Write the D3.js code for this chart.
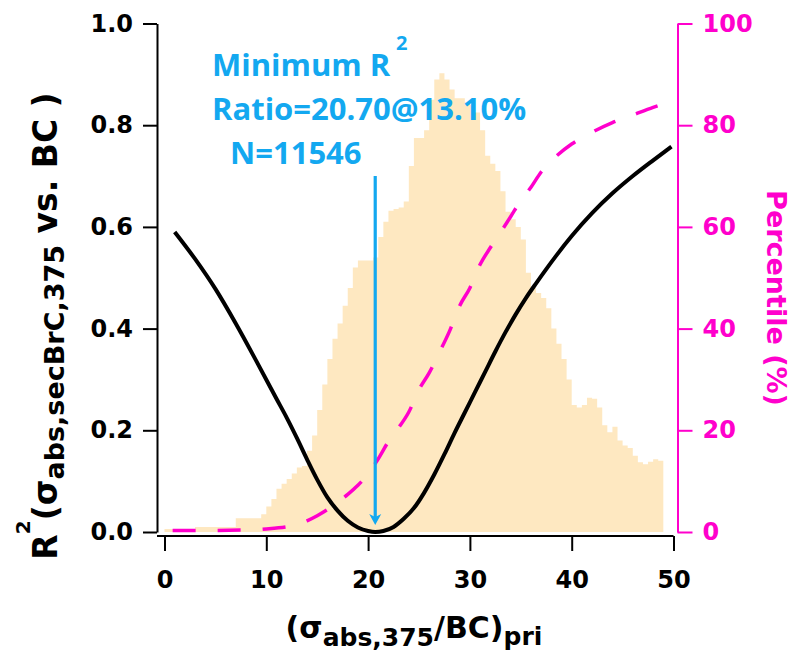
<!DOCTYPE html>
<html lang="en">
<head>
  <title>Minimum R2 ratio</title>
  <script src="https://cdn.jsdelivr.net/npm/d3@7"></script>
  <style>
    body { margin: 0; background: #fff; }
    svg { display: block; }
    .axis text { font-family: "DejaVu Sans", sans-serif; font-weight: bold; font-size: 24px; }
  </style>
</head>
<body>
  <script>
    // histogram of (sigma_abs,375/BC)_pri : bins 0.5 wide starting at 0, heights in left-axis units
    var histStart = 0;
    var histWidth = 0.5;
    var histValues = [
      0.006, 0.006, 0.006, 0.006, 0.006, 0.006,
      0.01, 0.01, 0.01, 0.01, 0.01, 0.01, 0.01, 0.01,
      0.027, 0.027, 0.027, 0.027, 0.027, 0.035,
      0.05, 0.065, 0.085, 0.095, 0.104, 0.115, 0.127, 0.13, 0.16, 0.19,
      0.24, 0.29, 0.34, 0.38, 0.41, 0.445, 0.48, 0.52, 0.534, 0.534,
      0.534, 0.54, 0.58, 0.61, 0.632, 0.635, 0.638, 0.65, 0.72, 0.775,
      0.775, 0.79, 0.85, 0.89, 0.902, 0.89, 0.87, 0.853, 0.853, 0.845,
      0.84, 0.825, 0.79, 0.74, 0.724, 0.71, 0.67, 0.63, 0.615, 0.60,
      0.575, 0.51, 0.48, 0.47, 0.46, 0.44, 0.40, 0.37, 0.34, 0.30,
      0.25, 0.245, 0.25, 0.264, 0.262, 0.245, 0.21, 0.196, 0.207, 0.18,
      0.17, 0.165, 0.15, 0.137, 0.133, 0.138, 0.143, 0.14
    ];

    // R2 of sigma_abs,secBrC,375 vs BC against the assumed ratio
    var r2Ratio = [1, 3, 5, 7, 9, 11, 12, 13, 14, 15, 16, 17, 18, 19, 20, 20.7,
                   21.5, 22.5, 23.5, 24.5, 25.5, 26.5, 27.5, 28.5, 29.5, 30.5, 31.5, 32.5,
                   33.5, 34.5, 35.5, 36.5, 37.5, 38.5, 40, 42, 44, 46, 48, 49.8];
    var r2Values = [0.59, 0.537, 0.478, 0.41, 0.337, 0.262, 0.225, 0.185, 0.143, 0.103,
                    0.068, 0.042, 0.022, 0.009, 0.002, 0.0,
                    0.002, 0.01, 0.026, 0.047, 0.077, 0.113, 0.153, 0.195, 0.235, 0.275,
                    0.315, 0.355, 0.393, 0.428, 0.46, 0.489, 0.517, 0.544, 0.582, 0.627,
                    0.666, 0.70, 0.731, 0.758];

    // cumulative percentile of the ratio
    var pctRatio = [0.8, 4, 8, 10, 12, 13, 14, 15, 16, 17, 18, 19, 20, 21, 22, 23, 24, 25, 26, 27,
                    28, 29, 30, 31, 32, 33, 34, 35, 36, 37, 38, 40, 42, 44, 46, 48, 49.7];
    var pctValues = [0.3, 0.3, 0.4, 0.6, 1.0, 1.4, 2.2, 3.2, 4.4, 5.8, 7.4, 9.2, 11.4, 14.4, 17.8,
                     20.5, 23.6, 28.0, 31.3, 35.3, 39.5, 44.5, 48.0, 52.6, 55.9, 58.9, 62.0, 65.2,
                     67.8, 70.8, 73.0, 76.3, 78.6, 80.5, 82.0, 83.5, 84.6];

    var xTicks = [0, 10, 20, 30, 40, 50];
    var leftTicks = [0, 0.2, 0.4, 0.6, 0.8, 1.0];
    var rightTicks = [0, 20, 40, 60, 80, 100];

    var minRatio = 20.70;
    var minPct = 13.10;
    var nPoints = 11546;

    var magenta = "#ff00cc";
    var blue = "#13a8f0";

    var w = 801, h = 661;
    var leftX = 157, rightX = 677.5, bottomY = 536;

    var svg = d3.select("body").append("svg")
                .attr("width", w)
                .attr("height", h);

    var x = d3.scaleLinear().domain([0, 50]).range([164.5, 673.5]);
    var yL = d3.scaleLinear().domain([0, 1]).range([532, 23.5]);
    var yR = d3.scaleLinear().domain([0, 100]).range([532, 23.5]);

    // histogram
    var hist = histValues.map(function(v, i) {
      return { x: histStart + i * histWidth, v: v };
    });
    hist.push({ x: histStart + histValues.length * histWidth, v: histValues[histValues.length - 1] });
    var area = d3.area()
                 .x(function(d) { return x(d.x); })
                 .y0(yL(0))
                 .y1(function(d) { return yL(d.v); })
                 .curve(d3.curveStepAfter);
    svg.append("path")
       .datum(hist)
       .attr("d", area)
       .attr("fill", "#fee8c1");

    // percentile (dashed magenta)
    var pct = pctRatio.map(function(r, i) { return { x: r, v: pctValues[i] }; });
    svg.append("path")
       .datum(pct)
       .attr("d", d3.line()
                    .x(function(d) { return x(d.x); })
                    .y(function(d) { return yR(d.v); })
                    .curve(d3.curveMonotoneX))
       .attr("fill", "none")
       .attr("stroke", magenta)
       .attr("stroke-width", 3.5)
       .attr("stroke-dasharray", "23,22");

    // R2 curve
    var r2 = r2Ratio.map(function(r, i) { return { x: r, v: r2Values[i] }; });
    svg.append("path")
       .datum(r2)
       .attr("d", d3.line()
                    .x(function(d) { return x(d.x); })
                    .y(function(d) { return yL(d.v); })
                    .curve(d3.curveMonotoneX))
       .attr("fill", "none")
       .attr("stroke", "#000")
       .attr("stroke-width", 4)
       .attr("stroke-linejoin", "round");

    // arrow to the minimum
    var ax = x(minRatio);
    var tipY = yL(0.014);
    svg.append("line")
       .attr("x1", ax).attr("x2", ax)
       .attr("y1", yL(0.70)).attr("y2", tipY - 6)
       .attr("stroke", blue)
       .attr("stroke-width", 3.2);
    svg.append("path")
       .attr("d", "M" + ax + "," + tipY + "L" + (ax - 6) + "," + (tipY - 11) +
                  "L" + ax + "," + (tipY - 8) + "L" + (ax + 6) + "," + (tipY - 11) + "Z")
       .attr("fill", blue);

    // axes
    var gL = svg.append("g")
                .attr("class", "axis")
                .attr("transform", "translate(" + leftX + ",0)")
                .call(d3.axisLeft(yL).tickValues(leftTicks).tickFormat(d3.format(".1f"))
                        .tickSize(14).tickSizeOuter(0).tickPadding(10));
    var gB = svg.append("g")
                .attr("class", "axis")
                .attr("transform", "translate(0," + bottomY + ")")
                .call(d3.axisBottom(x).tickValues(xTicks).tickFormat(d3.format("d"))
                        .tickSize(15).tickSizeOuter(0).tickPadding(20));
    gB.select(".domain").attr("d", "M" + leftX + ",0H" + x(50));
    var gR = svg.append("g")
                .attr("class", "axis")
                .attr("transform", "translate(" + rightX + ",0)")
                .call(d3.axisRight(yR).tickValues(rightTicks).tickFormat(d3.format("d"))
                        .tickSize(15).tickSizeOuter(0).tickPadding(10));
    svg.selectAll(".axis path, .axis line").attr("stroke-width", 2);
    gL.selectAll("path, line").attr("stroke", "#000");
    gB.selectAll("path, line").attr("stroke", "#000");
    gR.selectAll("path, line").attr("stroke", magenta);
    gR.selectAll("text").attr("fill", magenta);

    // axis titles
    var xTitle = svg.append("text")
                    .attr("x", 414).attr("y", 638)
                    .attr("text-anchor", "middle")
                    .style("font-family", "DejaVu Sans, sans-serif")
                    .style("font-weight", "bold")
                    .style("font-size", "30px");
    xTitle.append("tspan").text("(σ");
    xTitle.append("tspan").attr("dy", 8).style("font-size", "25px").text("abs,375");
    xTitle.append("tspan").attr("dy", -8).text("/BC)");
    xTitle.append("tspan").attr("dy", 7).style("font-size", "25px").text("pri");

    var yTitle = svg.append("text")
                    .attr("transform", "translate(57,326) rotate(-90)")
                    .attr("text-anchor", "middle")
                    .style("font-family", "DejaVu Sans, sans-serif")
                    .style("font-weight", "bold")
                    .style("font-size", "33px");
    yTitle.append("tspan").text("R");
    yTitle.append("tspan").attr("dy", -27).style("font-size", "20px").text("2");
    yTitle.append("tspan").attr("dy", 27).text("(σ");
    yTitle.append("tspan").attr("dy", 7).style("font-size", "27px").text("abs,secBrC,375");
    yTitle.append("tspan").attr("dy", -7).text(" vs. BC )");

    svg.append("text")
       .attr("transform", "translate(767,298) rotate(90)")
       .attr("text-anchor", "middle")
       .attr("fill", magenta)
       .style("font-family", "DejaVu Sans, sans-serif")
       .style("font-weight", "bold")
       .style("font-size", "27px")
       .text("Percentile (%)");

    // annotation
    var note = svg.append("g")
                  .attr("fill", blue)
                  .style("font-family", "Open Sans, sans-serif")
                  .style("font-weight", "bold")
                  .style("font-size", "31px");
    note.append("text").attr("x", 212).attr("y", 76).text("Minimum R");
    note.append("text").attr("x", 396).attr("y", 50).style("font-size", "20px").text("2");
    note.append("text").attr("x", 212).attr("y", 120)
        .text("Ratio=" + minRatio.toFixed(2) + "@" + minPct.toFixed(2) + "%");
    note.append("text").attr("x", 230).attr("y", 164).text("N=" + nPoints);
  </script>
</body>
</html>
